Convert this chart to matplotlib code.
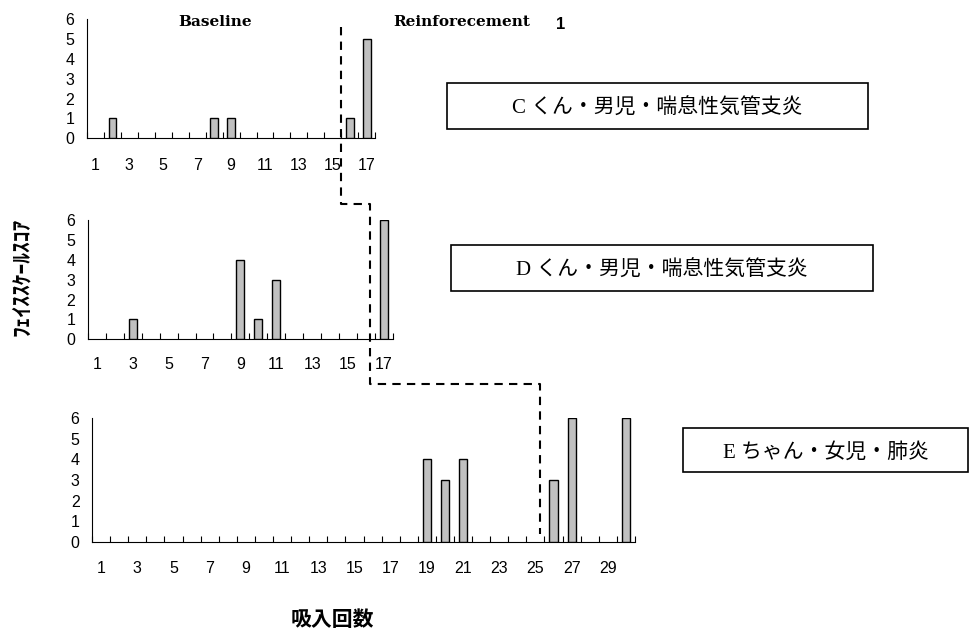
import numpy as np
import matplotlib.pyplot as plt
from matplotlib.lines import Line2D
from matplotlib.patches import Rectangle

# face scale scores per inhalation session
top_vals = [0, 1, 0, 0, 0, 0, 0, 1, 1, 0, 0, 0, 0, 0, 0, 1, 5]
mid_vals = [0, 0, 1, 0, 0, 0, 0, 0, 4, 1, 3, 0, 0, 0, 0, 0, 6]
bot_vals = [0] * 18 + [4, 3, 4, 0, 0, 0, 0, 3, 6, 0, 0, 6]

labels = ['C くん・男児・喘息性気管支炎',
          'D くん・男児・喘息性気管支炎',
          'E ちゃん・女児・肺炎']
phase_x = [15.5, 16.2, 25.25]   # phase change (baseline -> reinforcement)
y_label = 'ﾌｪｲｽｽｹｰﾙｽｺｱ'
x_label = '吸入回数'

plt.rcParams['font.family'] = ['Liberation Sans', 'Noto Sans CJK JP']
jp_font = ['Liberation Serif', 'Noto Sans CJK JP']

fig = plt.figure(figsize=(9.73, 6.32), dpi=100)
ax_top = fig.add_axes([0.0894, 0.7812, 0.2962, 0.1887])
ax_mid = fig.add_axes([0.0903, 0.4631, 0.3135, 0.1888])
ax_bot = fig.add_axes([0.0946, 0.1424, 0.5580, 0.1962])


def draw_panel(ax, vals, label_pad, last_label):
    n = len(vals)
    x = np.arange(1, n + 1)
    v = np.array(vals)
    mask = v > 0
    ax.bar(x[mask], v[mask], width=0.45, color='#c0c0c0',
           edgecolor='black', linewidth=1.0, zorder=3)
    ax.set_xlim(0.5, n + 0.5)
    ax.set_ylim(0, 6)
    ax.spines['top'].set_visible(False)
    ax.spines['right'].set_visible(False)
    ax.spines['left'].set_linewidth(0.8)
    ax.spines['bottom'].set_linewidth(0.8)
    ax.set_xticks(np.arange(1, last_label + 1, 2))
    ax.set_xticks(np.arange(0.5, n + 1), minor=True)
    ax.set_yticks(range(7))
    ax.set_yticks([6], minor=True)
    ax.tick_params(axis='x', which='major', length=0, pad=label_pad,
                   labelsize=11.5)
    ax.tick_params(axis='x', which='minor', direction='in', length=4,
                   width=0.8)
    ax.tick_params(axis='y', which='major', length=0, pad=9, labelsize=11.5)
    ax.tick_params(axis='y', which='minor', direction='in', length=4,
                   width=0.8)


draw_panel(ax_top, top_vals, 14, 17)
draw_panel(ax_mid, mid_vals, 12.5, 17)
draw_panel(ax_bot, bot_vals, 14, 29)


def to_fig(ax, x, y):
    disp = ax.transData.transform((x, y))
    return fig.transFigure.inverted().transform(disp)


# dashed phase-change line running through the three panels
p1 = to_fig(ax_top, phase_x[0], 5.6)
j1 = to_fig(ax_mid, phase_x[1], 6.8)
j2 = to_fig(ax_bot, phase_x[2], 7.65)
p6 = to_fig(ax_bot, phase_x[2], 0.4)
xs = [p1[0], p1[0], j1[0], j1[0], j2[0], j2[0]]
ys = [p1[1], j1[1], j1[1], j2[1], j2[1], p6[1]]
fig.add_artist(Line2D(xs, ys, transform=fig.transFigure, color='black',
                      linewidth=1.5, linestyle=(0, (4, 3))))

# phase titles
fig.text(0.221, 0.965, 'Baseline', family='DejaVu Serif', weight='bold',
         fontsize=11, ha='center', va='center')
fig.text(0.404, 0.965, 'Reinforecement', family='DejaVu Serif',
         weight='bold', fontsize=11, ha='left', va='center')
fig.text(0.576, 0.962, '1', family='Liberation Sans', weight='bold',
         fontsize=12, ha='center', va='center')

# subject boxes
boxes = [(0.4594, 0.7959, 0.4327, 0.0728),
         (0.4635, 0.5396, 0.4337, 0.0728),
         (0.7020, 0.2532, 0.2929, 0.0696)]
for (bx, by, bw, bh), text in zip(boxes, labels):
    fig.add_artist(Rectangle((bx, by), bw, bh, transform=fig.transFigure,
                             facecolor='white', edgecolor='black',
                             linewidth=1.2))
    fig.text(bx + bw / 2, by + bh / 2 - 0.004, text, family=jp_font,
             fontsize=15, ha='center', va='center')

fig.text(0.022, 0.562, y_label, family=['Noto Sans CJK JP'], weight='bold',
         fontsize=15.5, rotation=90, ha='center', va='center')
fig.text(0.342, 0.019, x_label, family=['Noto Sans CJK JP'], weight='bold',
         fontsize=15, ha='center', va='center')

fig.savefig('out.png', dpi=100)
